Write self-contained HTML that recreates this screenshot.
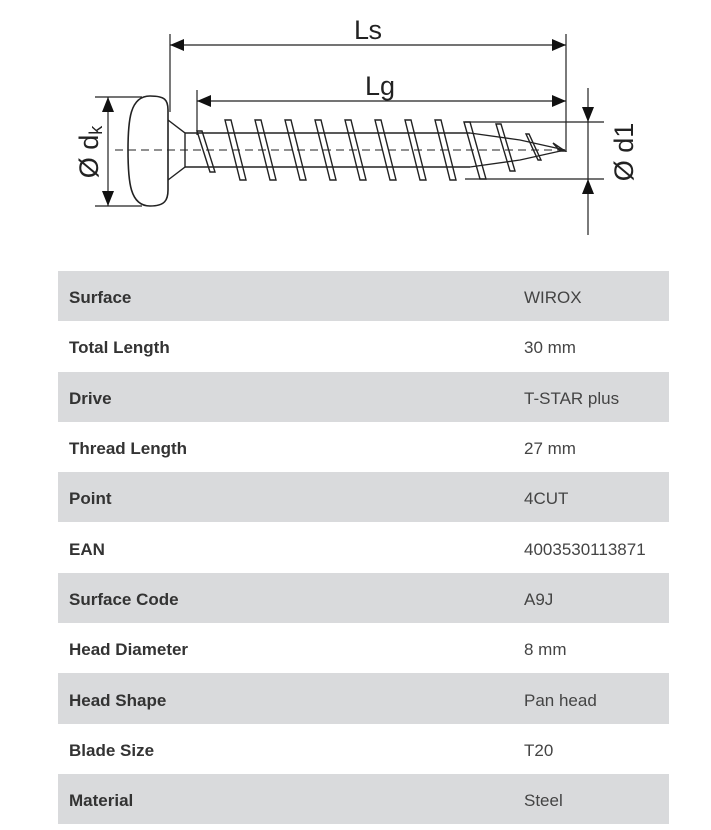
<!DOCTYPE html>
<html><head><meta charset="utf-8"><style>
body{margin:0;width:711px;height:830px;background:#fff;font-family:"Liberation Sans",Arial,sans-serif;overflow:hidden;position:relative}
table{position:absolute;left:58px;top:271px;width:611px;border-collapse:collapse;table-layout:fixed}
td{height:50.3px;padding:4px 0 0 0;box-sizing:border-box;font-size:17px;color:#333}
tr:nth-child(odd) td{background:#d9dadc}
td.k{font-weight:bold;padding-left:11px}
td.v{color:#444}
</style></head><body>
<svg width="711" height="260" style="position:absolute;left:0;top:0" xmlns="http://www.w3.org/2000/svg">
<g stroke="#222" stroke-width="1.2" fill="none">
<line x1="170" y1="34" x2="170" y2="112"/>
<line x1="566" y1="34" x2="566" y2="152"/>
<line x1="197" y1="90" x2="197" y2="135"/>
<line x1="95" y1="97" x2="142" y2="97"/>
<line x1="95" y1="206" x2="142" y2="206"/>
<line x1="465" y1="122" x2="604" y2="122"/>
<line x1="465" y1="179" x2="604" y2="179"/>
<line x1="588" y1="88" x2="588" y2="235"/>
<line x1="170" y1="45" x2="566" y2="45"/>
<line x1="197" y1="101" x2="566" y2="101"/>
<line x1="108" y1="97" x2="108" y2="206"/>
<line x1="115" y1="150" x2="570" y2="150" stroke-dasharray="8,5" stroke-width="1"/>
<path d="M150 96 C130 96 128 120 128 150 C128 182 130 206 150 206 C165 206 168 200 168 190 L168 110 C168 100 165 96 150 96 Z" stroke-width="1.6"/>
<path d="M168 120 L185 133 L185 167 L168 180" stroke-width="1.4"/>
<line x1="185" y1="133" x2="470" y2="133" stroke-width="1.4"/>
<line x1="185" y1="167" x2="470" y2="167" stroke-width="1.4"/>
<path d="M470 133 L520 140 L565 150 L520 160 L470 167" stroke-width="1.3"/>
<g stroke-width="1.4">
<path d="M197 131 L210 172 L215 172 L202 131 Z"/>
<path d="M225 120 L240 180 L246 180 L231 120 Z"/>
<path d="M255 120 L270 180 L276 180 L261 120 Z"/>
<path d="M285 120 L300 180 L306 180 L291 120 Z"/>
<path d="M315 120 L330 180 L336 180 L321 120 Z"/>
<path d="M345 120 L360 180 L366 180 L351 120 Z"/>
<path d="M375 120 L390 180 L396 180 L381 120 Z"/>
<path d="M405 120 L420 180 L426 180 L411 120 Z"/>
<path d="M435 120 L450 180 L456 180 L441 120 Z"/>
<path d="M464 122 L480 179 L486 179 L470 122 Z"/>
<path d="M496 124 L510 171 L515 171 L501 124 Z"/>
<path d="M526 134 L538 160 L541 160 L529 134 Z"/>
<path d="M553 143 L560 151 L565 151 Z"/>
</g>
</g>
<g fill="#111">
<polygon points="170,45 184,39 184,51"/>
<polygon points="566,45 552,39 552,51"/>
<polygon points="197,101 211,95 211,107"/>
<polygon points="566,101 552,95 552,107"/>
<polygon points="108,97 102,112 114,112"/>
<polygon points="108,206 102,191 114,191"/>
<polygon points="588,122 582,107 594,107"/>
<polygon points="588,179 582,194 594,194"/>
</g>
<g font-family="Liberation Sans,Arial,sans-serif" fill="#222" font-size="27">
<text x="368" y="39" text-anchor="middle" textLength="28">Ls</text>
<text x="380" y="95" text-anchor="middle">Lg</text>
<text transform="translate(98,152) rotate(-90)" text-anchor="middle">Ø d<tspan font-size="18" dy="4">k</tspan></text>
<text transform="translate(633,152) rotate(-90)" text-anchor="middle">Ø d1</text>
</g>
</svg>
<table>
<colgroup><col style="width:466px"><col style="width:145px"></colgroup>
<tr><td class="k">Surface</td><td class="v">WIROX</td></tr>
<tr><td class="k">Total Length</td><td class="v">30 mm</td></tr>
<tr><td class="k">Drive</td><td class="v">T-STAR plus</td></tr>
<tr><td class="k">Thread Length</td><td class="v">27 mm</td></tr>
<tr><td class="k">Point</td><td class="v">4CUT</td></tr>
<tr><td class="k">EAN</td><td class="v">4003530113871</td></tr>
<tr><td class="k">Surface Code</td><td class="v">A9J</td></tr>
<tr><td class="k">Head Diameter</td><td class="v">8 mm</td></tr>
<tr><td class="k">Head Shape</td><td class="v">Pan head</td></tr>
<tr><td class="k">Blade Size</td><td class="v">T20</td></tr>
<tr><td class="k">Material</td><td class="v">Steel</td></tr>
</table>
</body></html>
